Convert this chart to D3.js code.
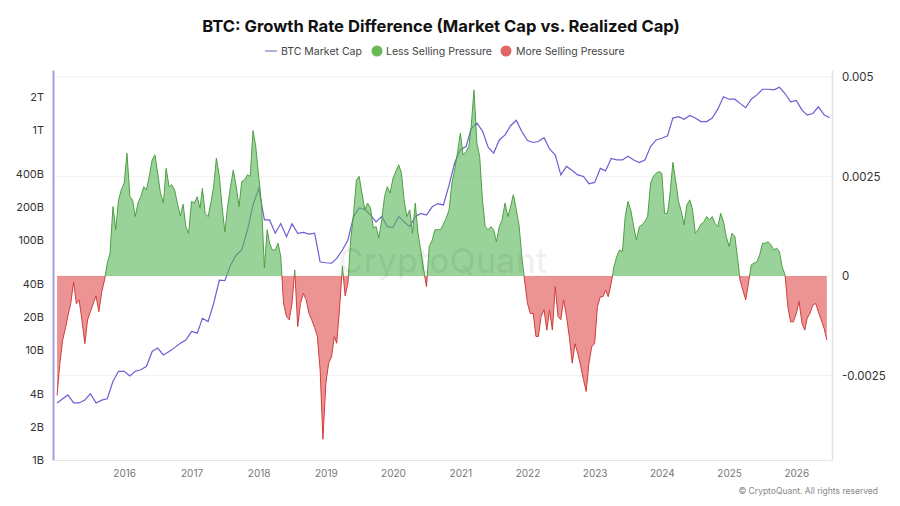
<!DOCTYPE html>
<meta charset="utf-8">
<style>
body { margin: 0; background: #fff; }
svg { display: block; font-family: Inter, "Open Sans", "DejaVu Sans", sans-serif; }
</style>
<body>
<div id="chart"><svg width="900" height="506"></svg></div>
<script src="https://cdn.jsdelivr.net/npm/d3@7"></script>
<script>

// BTC market cap, in billions USD, one value per month from Jan 2015
const mcapStart = "2015-01-01";
const mcapBn = [
  3.3, 3.6, 3.9, 3.3, 3.3, 3.5, 4.0, 3.3, 3.5, 3.6, 5.2, 6.4,
  6.4, 5.8, 6.4, 6.6, 7.1, 9.7, 10.4, 9.0, 9.7, 10.5, 11.5, 12.3,
  14.7, 14.2, 19.4, 18.1, 26.4, 43, 42.6, 59, 73, 81, 123, 208,
  294, 152, 152, 115, 141, 107, 140, 115, 117, 113, 115, 63,
  62, 61.5, 68, 81, 100, 163, 195, 190, 168, 146, 163, 132,
  130, 163, 146, 132, 163, 174, 168, 200, 214, 208, 316, 500,
  660, 705, 1030, 1150, 980, 695, 615, 810, 900, 1090, 1220, 966,
  800, 768, 784, 850, 670, 590, 390, 465, 427, 390, 377, 324,
  333, 447, 424, 550, 533, 533, 577, 533, 504, 533, 705, 810,
  840, 882, 1280, 1320, 1250, 1350, 1280, 1190, 1190, 1280, 1550, 2000,
  1900, 1900, 1740, 1590, 1900, 2080, 2340, 2340, 2310, 2440, 2140, 1800,
  1850, 1510, 1360, 1410, 1620, 1370, 1290
];

// growth rate difference, two values per month (1st and 16th) from Jan 2015
const diffStart = "2015-01-01";
const diffValues = [
  -0.0030, -0.0022, -0.0016, -0.0013, -0.0010, -0.0007, -0.00015, -0.0007, -0.0006, -0.0011, -0.0017, -0.0011,
  -0.0009, -0.0007, -0.0005, -0.0009, -0.0004, -0.0001, 0.00032, 0.00057, 0.00174, 0.00116, 0.0019, 0.00216,
  0.00233, 0.00308, 0.00199, 0.0019, 0.00149, 0.00183, 0.0020, 0.00224, 0.00216, 0.0025, 0.00291, 0.00304,
  0.00258, 0.00208, 0.00183, 0.0027, 0.00224, 0.00229, 0.00216, 0.00183, 0.0015, 0.0018, 0.00124, 0.00107,
  0.00187, 0.00183, 0.00199, 0.0017, 0.0022, 0.00157, 0.00149, 0.00183, 0.00224, 0.00296, 0.0025, 0.00174,
  0.0011, 0.00174, 0.00224, 0.00266, 0.00224, 0.00174, 0.00237, 0.00241, 0.00254, 0.0025, 0.00365, 0.00325,
  0.0025, 0.00183, 0.0002, 0.00116, 0.00082, 0.00065, 0.00065, 0.00082, 0.00049, -0.00069, -0.00102, -0.0011,
  -0.00069, 0.00015, -0.00127, -0.00069, -0.00044, -0.0006, -0.00094, -0.0011, -0.0013, -0.00152, -0.00236, -0.0041,
  -0.0027, -0.00219, -0.00203, -0.00152, -0.00169, -0.00085, 0.00025, -0.0005, -0.00018, 0.0009, 0.00157, 0.00241,
  0.0025, 0.00208, 0.00166, 0.00183, 0.0017, 0.0012, 0.00124, 0.00095, 0.00141, 0.00199, 0.00224, 0.00208,
  0.00245, 0.00262, 0.00279, 0.00258, 0.00191, 0.00149, 0.00166, 0.00107, 0.00183, 0.00107, 0.00061, 0.00015,
  -0.00027, 0.00074, 0.0009, 0.00116, 0.00116, 0.00116, 0.0013, 0.00145, 0.00166, 0.00233, 0.00266, 0.00308,
  0.00358, 0.00304, 0.00312, 0.00325, 0.00375, 0.00467, 0.00333, 0.0030, 0.00191, 0.00124, 0.00116, 0.00124,
  0.00116, 0.00086, 0.00124, 0.00141, 0.00183, 0.00149, 0.00174, 0.00204, 0.00166, 0.00128, 0.00049, -0.0001,
  -0.00069, -0.00094, -0.00094, -0.00152, -0.00152, -0.00102, -0.00085, -0.00136, -0.00085, -0.00136, -0.00027, -0.00102,
  -0.0011, -0.0006, -0.00102, -0.00152, -0.00219, -0.0017, -0.00194, -0.00224, -0.0026, -0.0029, -0.00219, -0.00178,
  -0.00169, -0.00077, -0.00052, -0.00052, -0.00035, -0.00052, -0.00018, 0.00023, 0.00049, 0.00065, 0.00061, 0.00149,
  0.00187, 0.00166, 0.00124, 0.0009, 0.00124, 0.00128, 0.00137, 0.00149, 0.00233, 0.0025, 0.00258, 0.00262,
  0.00258, 0.00157, 0.00157, 0.00212, 0.00285, 0.0024, 0.00187, 0.00162, 0.00128, 0.00178, 0.00191, 0.00166,
  0.00107, 0.00116, 0.0013, 0.00135, 0.00149, 0.00141, 0.00149, 0.00132, 0.00124, 0.00157, 0.00137, 0.00099,
  0.00074, 0.00107, 0.00099, 0.00044, -0.0001, -0.00035, -0.0006, -0.00018, 0.00028, 0.00032, 0.00036, 0.00053,
  0.00082, 0.00082, 0.00086, 0.00078, 0.00065, 0.0007, 0.00061, 0.00023, 0.00003, -0.00077, -0.00115, -0.00115,
  -0.00094, -0.00064, -0.00119, -0.00136, -0.00106, -0.00094, -0.00073, -0.00069, -0.0009, -0.0011, -0.00131, -0.00161
];

const leftTicks = [1, 2, 4, 10, 20, 40, 100, 200, 400, 1000, 2000];
const rightTicks = [-0.0025, 0, 0.0025, 0.005];
const yearTicks = ["2016", "2017", "2018", "2019", "2020", "2021", "2022", "2023", "2024", "2025", "2026"];

// build rows
const parse = d3.utcParse("%Y-%m-%d");
const mcapDates = d3.utcMonth.range(parse(mcapStart), d3.utcMonth.offset(parse(mcapStart), mcapBn.length));
const mcap = mcapBn.map((v, i) => ({ date: mcapDates[i], v: v }));

const diffDates = [];
d3.utcMonth.range(parse(diffStart), d3.utcMonth.offset(parse(diffStart), Math.ceil(diffValues.length / 2)))
  .forEach(m => { diffDates.push(m, d3.utcDay.offset(m, 15)); });
const diff = diffValues.map((v, i) => ({ date: diffDates[i], v: v }));

const svg = d3.select("#chart svg");
const pLeft = 53, pRight = 832, pTop = 70, pBottom = 460;

const x = d3.scaleUtc()
    .domain([parse("2014-12-10"), parse("2026-07-14")])
    .range([pLeft, pRight]);
const yL = d3.scaleLog().domain([1, 3500]).range([pBottom, pTop]);
const yR = d3.scaleLinear().domain([-0.00462, 0.00517]).range([pBottom, pTop]);

// title + legend
svg.append("text")
    .attr("x", 441).attr("y", 32)
    .attr("text-anchor", "middle")
    .style("font-size", "16.6px").style("font-weight", 700).style("fill", "#111")
    .text("BTC: Growth Rate Difference (Market Cap vs. Realized Cap)");

const lg = svg.append("g").style("font-size", "10.5px").style("fill", "#444");
lg.append("line").attr("x1", 265).attr("x2", 277).attr("y1", 51).attr("y2", 51)
    .style("stroke", "#8a84c9").style("stroke-width", 1.3);
lg.append("text").attr("x", 281).attr("y", 54.5).text("BTC Market Cap");
lg.append("circle").attr("cx", 377).attr("cy", 51).attr("r", 5.5).style("fill", "#66bb55");
lg.append("text").attr("x", 386).attr("y", 54.5).text("Less Selling Pressure");
lg.append("circle").attr("cx", 506).attr("cy", 51).attr("r", 5.5).style("fill", "#e06565");
lg.append("text").attr("x", 516).attr("y", 54.5).text("More Selling Pressure");

// faint grid
svg.append("g").selectAll("line").data(rightTicks).join("line")
    .attr("x1", pLeft).attr("x2", pRight)
    .attr("y1", d => yR(d)).attr("y2", d => yR(d))
    .style("stroke", "#f1f1f1");

// market cap line
svg.append("path").datum(mcap)
    .attr("d", d3.line().x(d => x(d.date)).y(d => yL(d.v)))
    .style("fill", "none").style("stroke", "#6a5fd3").style("stroke-width", 1.2);

// areas, split at zero with two clips
const defs = svg.append("defs");
defs.append("clipPath").attr("id", "above").append("rect")
    .attr("x", pLeft).attr("y", pTop).attr("width", pRight - pLeft).attr("height", yR(0) - pTop);
defs.append("clipPath").attr("id", "below").append("rect")
    .attr("x", pLeft).attr("y", yR(0)).attr("width", pRight - pLeft).attr("height", pBottom - yR(0));

const area = d3.area().x(d => x(d.date)).y0(yR(0)).y1(d => yR(d.v));
const edge = d3.line().x(d => x(d.date)).y(d => yR(d.v));

[["above", "#5cb85c", "#4f9f43"], ["below", "#e05252", "#d23c3c"]].forEach(([id, fill, stroke]) => {
  const g = svg.append("g").attr("clip-path", `url(#${id})`);
  g.append("path").datum(diff).attr("d", area)
      .style("fill", fill).style("fill-opacity", 0.62);
  g.append("path").datum(diff).attr("d", edge)
      .style("fill", "none").style("stroke", stroke).style("stroke-width", 1);
});

// watermark
svg.append("text")
    .attr("x", 443).attr("y", 273)
    .attr("text-anchor", "middle")
    .style("font-size", "34px").style("font-weight", 500)
    .style("fill", "#000").style("fill-opacity", 0.06)
    .text("CryptoQuant");

// axes
const gl = svg.append("g").attr("transform", `translate(${pLeft},0)`)
    .call(d3.axisLeft(yL).tickValues(leftTicks).tickSize(0).tickPadding(9)
      .tickFormat(d => d >= 1000 ? (d / 1000) + "T" : d + "B"));
gl.select(".domain").style("stroke", "#a49fdf").style("stroke-width", 2);
gl.selectAll("text").style("font-size", "11px").style("fill", "#333");

const gr = svg.append("g").attr("transform", `translate(${pRight},0)`)
    .call(d3.axisRight(yR).tickValues(rightTicks).tickSize(0).tickPadding(10)
      .tickFormat(d => d === 0 ? "0" : String(d)));
gr.select(".domain").style("stroke", "#e3e3e3").style("stroke-width", 1.5);
gr.selectAll("text").style("font-size", "11.5px").style("fill", "#333");

const gb = svg.append("g").attr("transform", `translate(0,${pBottom})`)
    .call(d3.axisBottom(x).tickValues(yearTicks.map(y => parse(y + "-01-01")))
      .tickSize(0).tickPadding(10).tickFormat(d3.utcFormat("%Y")));
gb.select(".domain").style("stroke", "#e6e6e6");
gb.selectAll("text").style("font-size", "10px").style("fill", "#777");

[gl, gr, gb].forEach(g => g.attr("font-family", null).attr("font-size", null));

// footer
svg.append("text")
    .attr("x", 878).attr("y", 494)
    .attr("text-anchor", "end")
    .style("font-size", "8.5px").style("fill", "#888")
    .text("\u00A9 CryptoQuant. All rights reserved");

</script>
</body>
